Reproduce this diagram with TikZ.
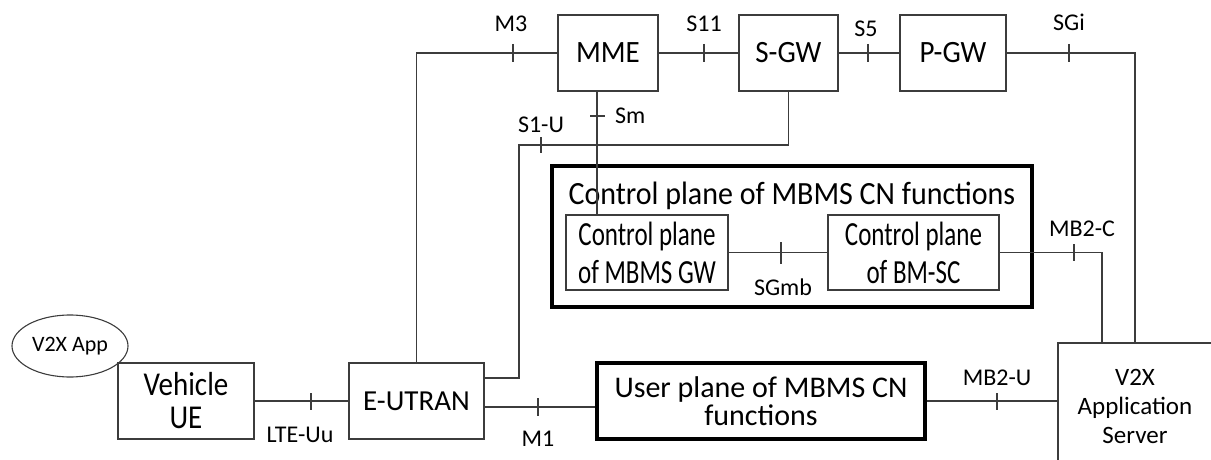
\documentclass[tikz,border=0pt]{standalone}
\usepackage{fontspec}
\setmainfont{Carlito}
\usetikzlibrary{calc,shapes.geometric}
\definecolor{linegray}{HTML}{3C3C3C}
\newcommand{\tallA}[1]{\scalebox{1}[1.35]{#1}}
\newcommand{\tallB}[1]{\scalebox{1}[1.15]{#1}}
\begin{document}
\begin{tikzpicture}[x=1pt,y=-1pt,
  box/.style={draw=linegray, line width=1.2pt, inner sep=0pt, align=center,
    font=\fontsize{29}{35}\selectfont},
  smallbox/.style={box, font=\fontsize{25}{38}\selectfont},
  thickbox/.style={draw=black, line width=3.3pt, inner sep=0pt, align=center,
    font=\fontsize{30}{30}\selectfont},
  conn/.style={draw=linegray, line width=1.1pt},
  tickmark/.style={draw=linegray, line width=1.1pt},
  lbl/.style={inner sep=0pt, anchor=base, font=\fontsize{24}{24}\selectfont},
]
\useasboundingbox (0,0) rectangle (1211,460);

% nodes
\node[box, minimum width=100, minimum height=76] (mme) at (608,53) {\scalebox{1}[1.07]{MME}};
\node[box, minimum width=99, minimum height=76] (sgw) at (788.5,53) {\scalebox{1}[1.07]{S-GW}};
\node[box, minimum width=106, minimum height=76] (pgw) at (953,53) {\scalebox{1}[1.07]{P-GW}};

\node[thickbox, minimum width=480, minimum height=141] (cpo) at (792,236.5) {};
\node[inner sep=0pt, anchor=base, font=\fontsize{30}{30}\selectfont] (cpt) at (792,204) {\scalebox{1}[1.08]{Control plane of MBMS CN functions}};
\node[smallbox, minimum width=162, minimum height=75] (cpgw) at (647,252.5) {\tallA{Control plane}\\\tallA{of MBMS GW}};
\node[smallbox, minimum width=171, minimum height=75] (bmsc) at (913.5,252.5) {\tallA{Control plane}\\\tallA{of BM-SC}};

\node[box, font=\fontsize{25}{29}\selectfont, minimum width=154, minimum height=127] (as) at (1135,406.5) {V2X\\Application\\Server};
\node[thickbox, minimum width=328, minimum height=76, font=\fontsize{30}{28}\selectfont] (up) at (761,401) {User plane of MBMS CN\\functions};
\node[box, minimum width=135, minimum height=76] (eutran) at (416.5,401) {E-UTRAN};
\node[box, minimum width=136, minimum height=76, font=\fontsize{29}{33}\selectfont] (ue) at (186,401) {\tallB{Vehicle}\\\tallB{UE}};
\node[ellipse, draw=linegray, line width=1.1pt, inner sep=0pt, minimum width=116, minimum height=62,
  font=\fontsize{22}{22}\selectfont] (app) at (70,346) {V2X App};

% coordinates
\coordinate (s1c) at (519,145);
\coordinate (s1e) at (484,378);
\coordinate (mbc) at (1102,343);
\coordinate (smtop) at (597,91);

% connectors
\draw[conn] (mme.west) -| (eutran.north);
\draw[conn] (mme.east) -- (sgw.west);
\draw[conn] (sgw.east) -- (pgw.west);
\draw[conn] (pgw.east) -| (as.north);
\draw[conn] (smtop) -- (smtop |- cpgw.north);
\draw[conn] (sgw.south) |- (s1c) |- (s1e);
\draw[conn] (cpgw.east) -- (bmsc.west);
\draw[conn] (bmsc.east) -| (mbc);
\draw[conn] (up.east) -- (up.east -| as.west);
\draw[conn] ($(eutran.east)+(0,6)$) -- ($(up.west)+(0,6)$);
\draw[conn] (ue.east) -- (eutran.west);

% ticks
\draw[tickmark] (513,44) -- (513,62);
\draw[tickmark] (704,44) -- (704,62);
\draw[tickmark] (868,44) -- (868,62);
\draw[tickmark] (1069,44) -- (1069,62);
\draw[tickmark] (590,116) -- (605,116);
\draw[tickmark] (541,137) -- (541,153);
\draw[tickmark] (781,242) -- (781,264);
\draw[tickmark] (1074,244) -- (1074,261);
\draw[tickmark] (997,393) -- (997,410);
\draw[tickmark] (538,398) -- (538,416);
\draw[tickmark] (311,393) -- (311,410);

% labels
\node[lbl] (lm3) at (511,32) {M3};
\node[lbl] (ls11) at (704,32) {S11};
\node[lbl] (ls5) at (866,37) {S5};
\node[lbl] (lsgi) at (1069,31) {SGi};
\node[lbl, anchor=base west] (lsm) at (615,124) {Sm};
\node[lbl] (ls1u) at (541,132) {S1-U};
\node[lbl] (lsgmb) at (783,295) {SGmb};
\node[lbl] (lmb2c) at (1082,236) {MB2-C};
\node[lbl] (lmb2u) at (997,385) {MB2-U};
\node[lbl] (lm1) at (538,446) {M1};
\node[lbl] (llte) at (300,442) {LTE-Uu};
\end{tikzpicture}
\end{document}
